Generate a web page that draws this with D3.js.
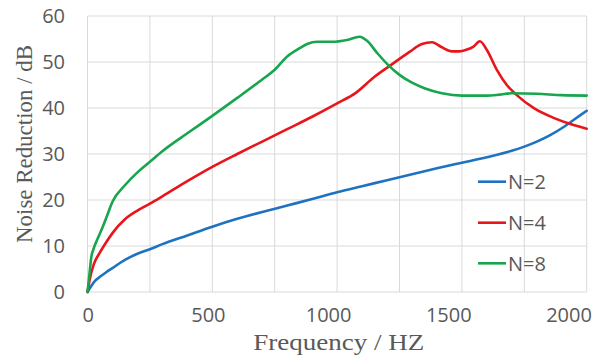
<!DOCTYPE html>
<html>
<head>
<meta charset="utf-8">
<script src="https://cdn.jsdelivr.net/npm/d3@7"></script>
<style>
  html, body { margin: 0; padding: 0; background: #fff; }
  svg { display: block; }
</style>
</head>
<body>
<svg id="chart" width="601" height="360"></svg>
<script>
// ---- data ----
const seriesNames = ["N=2", "N=4", "N=8"];

const freqN2 = [0, 15, 30, 50, 75, 100, 150, 200, 250, 300, 400, 500, 600, 700, 800, 900, 1000, 1100, 1200, 1300, 1400, 1500, 1600, 1700, 1750, 1800, 1850, 1900, 1950, 2000];
const valsN2 = [0, 1.3, 2.4, 3.3, 4.3, 5.2, 7.0, 8.3, 9.3, 10.4, 12.3, 14.2, 15.9, 17.4, 18.8, 20.2, 21.7, 23.0, 24.3, 25.6, 26.9, 28.1, 29.3, 30.7, 31.6, 32.7, 34.0, 35.6, 37.5, 39.4];

const freqN4 = [0, 10, 25, 50, 75, 100, 150, 200, 250, 300, 400, 500, 600, 700, 800, 900, 1000, 1075, 1150, 1225, 1290, 1340, 1380, 1420, 1460, 1490, 1520, 1545, 1572, 1600, 1640, 1680, 1720, 1790, 1870, 1935, 2000];
const valsN4 = [0, 3, 6, 8.6, 10.8, 12.8, 15.8, 17.7, 19.2, 20.8, 24.1, 27.2, 30.0, 32.7, 35.4, 38.1, 41.0, 43.3, 46.8, 49.7, 52.2, 53.9, 54.3, 53.2, 52.3, 52.3, 52.7, 53.3, 54.5, 52.6, 48.3, 45.0, 42.8, 39.9, 37.8, 36.5, 35.5];

const freqN8 = [0, 8, 15, 25, 40, 60, 80, 100, 150, 200, 250, 300, 400, 500, 600, 700, 750, 800, 850, 880, 920, 980, 1040, 1090, 1120, 1160, 1200, 1250, 1300, 1350, 1420, 1500, 1600, 1650, 1700, 1800, 1900, 2000];
const valsN8 = [0, 4, 7.5, 9.5, 11.5, 14, 16.8, 19.6, 23.2, 26, 28.3, 30.6, 34.5, 38.3, 42.2, 46.2, 48.3, 51.2, 53, 53.9, 54.4, 54.4, 54.8, 55.5, 54.6, 52, 49.6, 47.2, 45.5, 44.3, 43.2, 42.7, 42.7, 42.9, 43.2, 43.1, 42.8, 42.7];

const xTickValues = [0, 500, 1000, 1500, 2000];
const xGridValues = [0, 250, 500, 750, 1000, 1250, 1500, 1750, 2000];
const yTickValues = [0, 10, 20, 30, 40, 50, 60];

const xTitle = "Frequency / HZ";
const yTitle = "Noise Reduction / dB";

// ---- drawing ----
(function () {
  const colors = ["#1f72c0", "#e8161b", "#17a64e"];
  const series = [
    { name: seriesNames[0], pts: freqN2.map((f, i) => [f, valsN2[i]]) },
    { name: seriesNames[1], pts: freqN4.map((f, i) => [f, valsN4[i]]) },
    { name: seriesNames[2], pts: freqN8.map((f, i) => [f, valsN8[i]]) }
  ];

  const svg = d3.select("#chart");
  const pL = 87.5, pR = 586.7, pT = 16, pB = 292;

  const x = d3.scaleLinear().domain([0, 2000]).range([pL, pR]);
  const xLabel = d3.scaleLinear().domain([0, 2000]).range([87.7, 568.5]);
  const y = d3.scaleLinear().domain([0, 60]).range([pB, pT]);

  const sans = "'Open Sans', 'Liberation Sans', Arial, sans-serif";
  const serif = "'Liberation Serif', 'Times New Roman', serif";
  const textColor = "#595959";

  // grid
  const grid = svg.append("g");
  grid.selectAll("line.h").data(yTickValues).join("line").attr("class", "h")
    .attr("x1", pL).attr("x2", pR)
    .attr("y1", d => y(d)).attr("y2", d => y(d))
    .attr("stroke", "#d9d9d9").attr("stroke-width", 1);
  grid.selectAll("line.v").data(xGridValues).join("line").attr("class", "v")
    .attr("x1", d => x(d)).attr("x2", d => x(d))
    .attr("y1", pT).attr("y2", pB)
    .attr("stroke", "#d9d9d9").attr("stroke-width", 1);

  // axes (labels only)
  const yAxis = svg.append("g").attr("transform", "translate(65,0)")
    .call(d3.axisLeft(y).tickValues(yTickValues).tickSize(0).tickPadding(0));
  const xAxis = svg.append("g").attr("transform", `translate(0,${pB})`)
    .call(d3.axisBottom(xLabel).tickValues(xTickValues).tickSize(0).tickPadding(16).tickFormat(d3.format("d")));
  [yAxis, xAxis].forEach(g => {
    g.select(".domain").remove();
    g.selectAll("text").attr("fill", textColor).style("font-family", sans).style("font-size", "20px");
  });

  // lines
  const line = d3.line().x(d => x(d[0])).y(d => y(d[1])).curve(d3.curveMonotoneX);
  svg.append("g").selectAll("path").data(series).join("path")
    .attr("d", d => line(d.pts))
    .attr("fill", "none")
    .attr("stroke", (d, i) => colors[i])
    .attr("stroke-width", 2.6)
    .attr("stroke-linejoin", "round")
    .attr("stroke-linecap", "round");

  // legend
  const legendY = [181.7, 222.7, 263.3];
  const lg = svg.append("g").selectAll("g").data(series).join("g")
    .attr("transform", (d, i) => `translate(478,${legendY[i]})`);
  lg.append("line").attr("x1", 0).attr("x2", 28).attr("y1", 0).attr("y2", 0)
    .attr("stroke", (d, i) => colors[i]).attr("stroke-width", 2.6);
  lg.append("text").attr("x", 30).attr("y", 7.2)
    .attr("fill", textColor).style("font-family", sans).style("font-size", "20px")
    .text(d => d.name);

  // titles
  svg.append("text")
    .attr("x", 338.8).attr("y", 349.5)
    .attr("text-anchor", "middle")
    .attr("fill", textColor)
    .style("font-family", serif).style("font-size", "24px")
    .attr("textLength", 171).attr("lengthAdjust", "spacingAndGlyphs")
    .text(xTitle);

  svg.append("text")
    .attr("transform", "translate(32,144) rotate(-90)")
    .attr("text-anchor", "middle")
    .attr("fill", textColor)
    .style("font-family", serif).style("font-size", "23px")
    .attr("textLength", 198).attr("lengthAdjust", "spacingAndGlyphs")
    .text(yTitle);
})();
</script>
</body>
</html>
